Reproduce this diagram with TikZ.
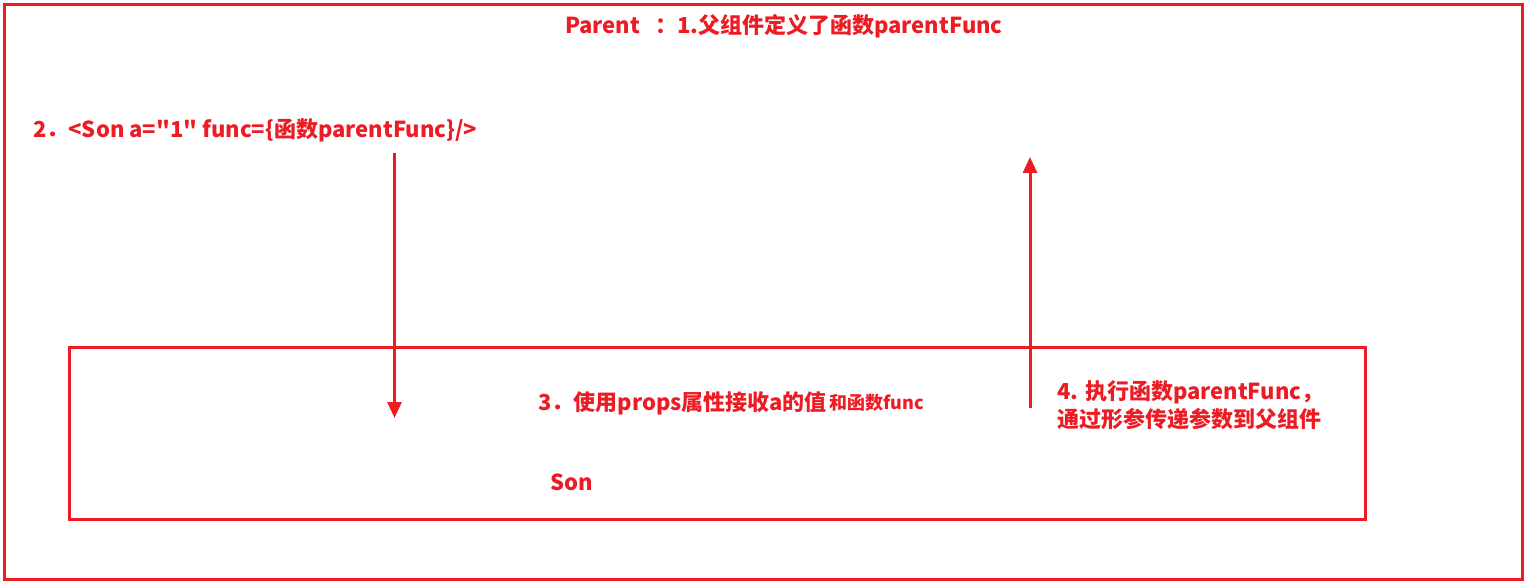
\documentclass[tikz,border=0pt]{standalone}
\usepackage{fontspec}
\newfontfamily\cjk{Noto Sans CJK SC}
\usepackage{tikz}
\usetikzlibrary{positioning}
\usetikzlibrary{arrows.meta}

\definecolor{paintred}{RGB}{237,28,36}

\tikzset{
  frame/.style={draw=paintred, line width=3pt},
  label/.style={text=paintred, font=\cjk\bfseries\fontsize{22}{28}\selectfont, inner sep=0pt, anchor=west},
  flow/.style={draw=paintred, line width=3pt, -{Triangle[width=14pt,length=16pt]}}
}

\begin{document}
\begin{tikzpicture}[x=1pt,y=-1pt]
\useasboundingbox (0,0) rectangle (1529,585);

% Parent
\draw[frame] (4,4.5) rectangle (1522,579.5);
% Son
\draw[frame] (69,348) rectangle (1365,519);

\node[label] (title) at (565,26) {Parent\ \ \ ：1.父组件定义了函数parentFunc};
\node[label] (sontag) at (33,130) {2．<Son a="1" func=\{函数parentFunc\}/>};
\node[label] (props) at (538,403) {3．使用props属性接收a的值};
\node[label, font=\cjk\bfseries\fontsize{18}{22}\selectfont, right=2pt of props] (andfunc) {和函数func};
\node[label] (son) at (550,482) {Son};
\node[label, align=left] (call) at (1057,405) {4. 执行函数parentFunc，\\通过形参传递参数到父组件};

%props nach unten
\coordinate (downtop) at (394.5,153);
\coordinate (downtip) at (394.5,418);
\draw[flow] (downtop) -- (downtip);

%aufruf nach oben
\coordinate (uptail) at (1030,408);
\coordinate (uptip) at (1030,157);
\draw[flow] (uptail) -- (uptip);

\end{tikzpicture}
\end{document}
